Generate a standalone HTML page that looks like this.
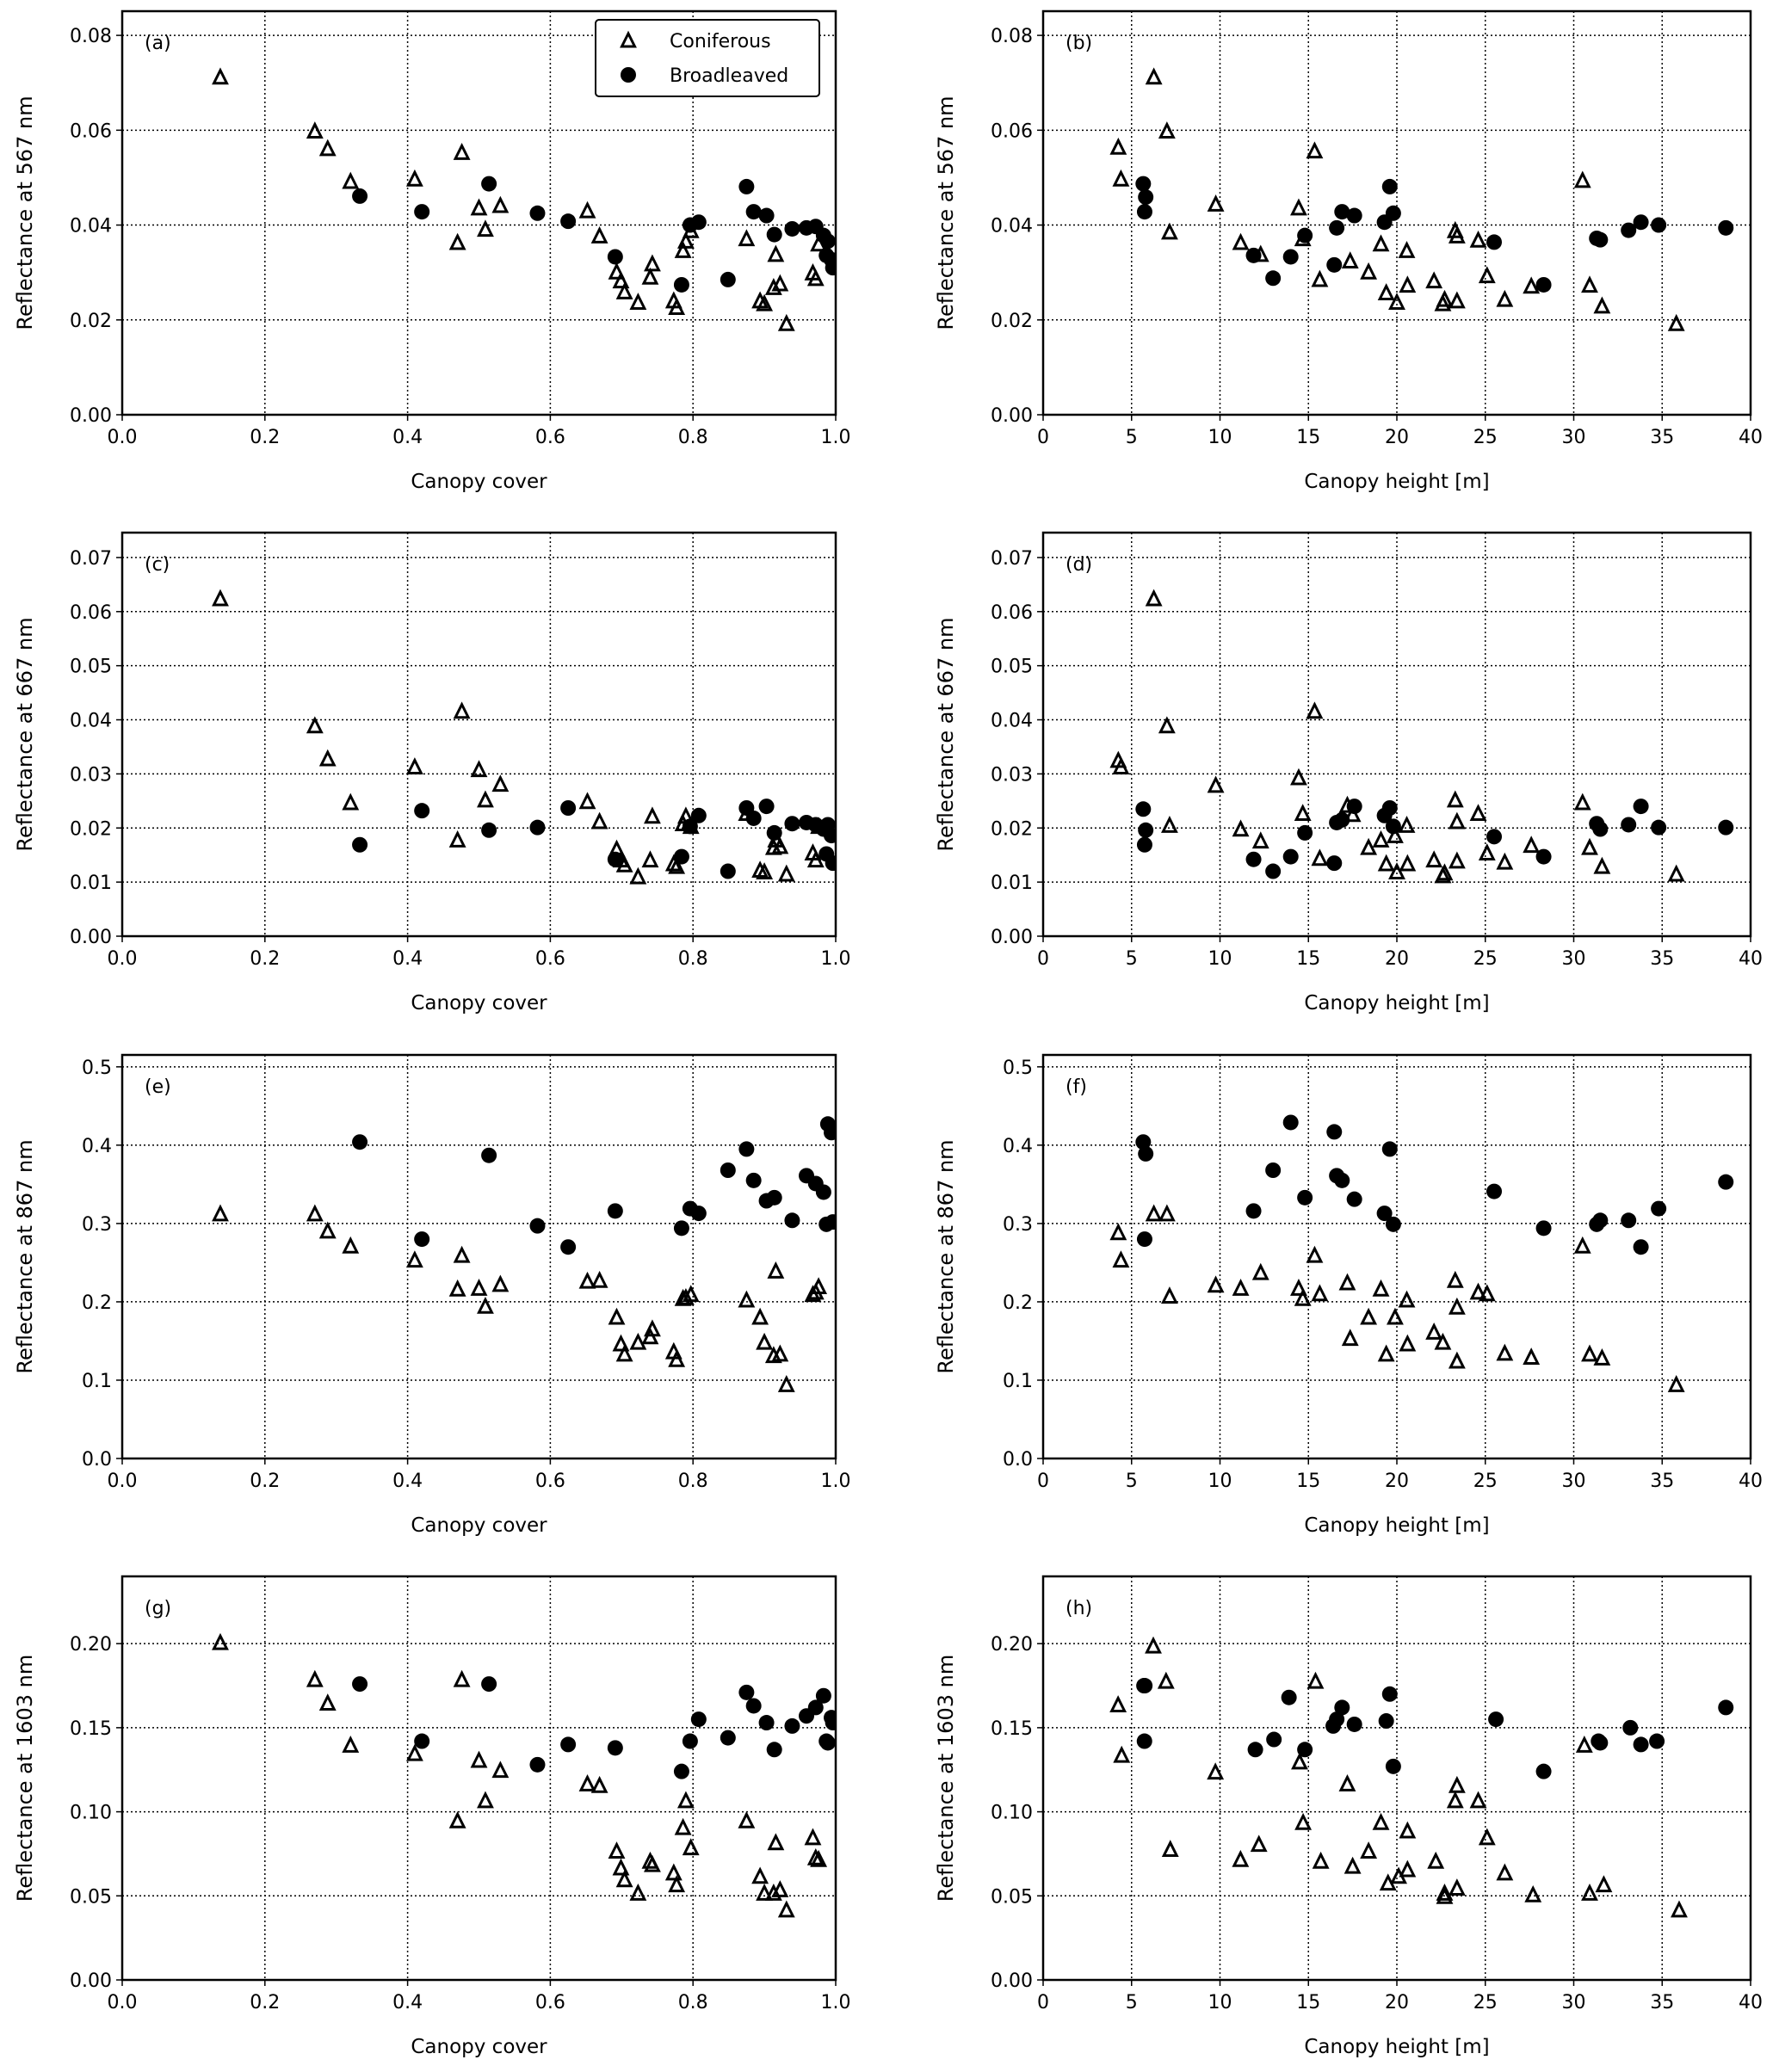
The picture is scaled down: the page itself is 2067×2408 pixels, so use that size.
<!DOCTYPE html>
<html><head><meta charset="utf-8"><style>
html,body{margin:0;padding:0;background:#fff;}
svg text{font-family:"DejaVu Sans","Liberation Sans",sans-serif;fill:#000;}
</style></head><body>
<svg id="fig" width="2067" height="2403" viewBox="0 0 2067 2403" xmlns="http://www.w3.org/2000/svg"></svg>
<script>
// ---- data (x arrays, y arrays per panel) ----
const coverConX=[0.1375,0.27,0.288,0.32,0.41,0.476,0.47,0.5,0.509,0.53,0.652,0.669,0.693,0.699,0.704,0.723,0.74,0.743,0.773,0.777,0.786,0.79,0.797,0.875,0.894,0.9,0.913,0.916,0.922,0.931,0.968,0.972,0.976];
const coverBroX=[0.333,0.42,0.514,0.582,0.625,0.691,0.784,0.796,0.808,0.849,0.875,0.885,0.903,0.914,0.939,0.959,0.972,0.983,0.989,0.987,0.994,0.996];
const aConY=[0.0710,0.0596,0.0559,0.0490,0.0495,0.0551,0.0361,0.0434,0.0389,0.0439,0.0428,0.0375,0.0299,0.0280,0.0257,0.0235,0.0288,0.0316,0.0238,0.0224,0.0344,0.0364,0.0386,0.0369,0.0238,0.0232,0.0266,0.0336,0.0274,0.0190,0.0297,0.0285,0.0358];
const aBroY=[0.0461,0.0428,0.0487,0.0425,0.0408,0.0333,0.0274,0.0400,0.0406,0.0285,0.0481,0.0428,0.0420,0.0380,0.0392,0.0394,0.0397,0.0378,0.0366,0.0336,0.0327,0.0310];
const cConY=[0.0622,0.0387,0.0326,0.0245,0.0311,0.0414,0.0176,0.0306,0.0250,0.0279,0.0247,0.0210,0.0159,0.0139,0.0130,0.0108,0.0139,0.0220,0.0132,0.0127,0.0206,0.0220,0.0201,0.0225,0.0120,0.0117,0.0162,0.0176,0.0164,0.0113,0.0152,0.0139,0.0201];
const cBroY=[0.0169,0.0232,0.0196,0.0201,0.0237,0.0142,0.0147,0.0203,0.0223,0.0120,0.0237,0.0218,0.0240,0.0191,0.0208,0.0210,0.0206,0.0198,0.0206,0.0152,0.0186,0.0135];
const eConY=[0.311,0.311,0.289,0.270,0.252,0.258,0.215,0.216,0.193,0.221,0.225,0.226,0.179,0.145,0.132,0.147,0.154,0.164,0.135,0.125,0.203,0.204,0.208,0.201,0.179,0.147,0.130,0.238,0.132,0.093,0.208,0.211,0.218];
const eBroY=[0.404,0.280,0.387,0.297,0.270,0.316,0.294,0.319,0.313,0.368,0.395,0.355,0.329,0.333,0.304,0.361,0.351,0.340,0.427,0.299,0.416,0.302];
const gConY=[0.200,0.178,0.164,0.139,0.134,0.178,0.094,0.130,0.106,0.124,0.116,0.115,0.076,0.066,0.059,0.051,0.070,0.068,0.063,0.056,0.090,0.106,0.078,0.094,0.061,0.051,0.051,0.081,0.053,0.041,0.084,0.072,0.071];
const gBroY=[0.176,0.142,0.176,0.128,0.140,0.138,0.124,0.142,0.155,0.144,0.171,0.163,0.153,0.137,0.151,0.157,0.162,0.169,0.141,0.142,0.156,0.153];

const bConX=[4.25,4.4,6.26,7.0,7.15,9.76,11.17,12.3,14.45,14.68,15.35,15.64,17.36,18.4,19.1,19.4,20.0,20.56,20.6,22.1,22.6,22.7,23.3,23.4,23.4,24.6,25.1,26.1,27.6,30.5,30.9,31.6,35.8];
const bConY=[0.0562,0.0495,0.0710,0.0596,0.0383,0.0442,0.0361,0.0336,0.0434,0.0369,0.0554,0.0283,0.0322,0.0299,0.0358,0.0255,0.0235,0.0344,0.0271,0.0280,0.0232,0.0241,0.0386,0.0238,0.0375,0.0366,0.0291,0.0241,0.0269,0.0492,0.0271,0.0227,0.0190];
const heightBroX=[5.66,5.8,5.74,11.9,13.0,14.0,14.8,16.46,16.6,16.9,17.6,19.3,19.6,19.8,25.5,28.3,31.3,31.5,33.1,33.8,34.8,38.6];
const bBroY=[0.0487,0.0459,0.0428,0.0336,0.0288,0.0333,0.0378,0.0316,0.0394,0.0428,0.0420,0.0406,0.0481,0.0425,0.0364,0.0274,0.0372,0.0369,0.0389,0.0406,0.0400,0.0394];
const dConX=[4.25,4.4,6.26,7.0,7.15,9.76,11.17,12.3,14.45,14.68,15.35,15.64,17.2,17.5,18.4,19.1,19.4,20.0,19.9,20.56,20.6,22.1,22.6,22.7,23.3,23.4,23.4,24.6,25.1,26.1,27.6,30.5,30.9,31.6,35.8];
const dConY=[0.0323,0.0311,0.0622,0.0387,0.0203,0.0277,0.0196,0.0174,0.0291,0.0225,0.0414,0.0142,0.0240,0.0223,0.0162,0.0176,0.0132,0.0117,0.0184,0.0203,0.0132,0.0139,0.0110,0.0115,0.0250,0.0210,0.0137,0.0225,0.0152,0.0135,0.0166,0.0245,0.0162,0.0127,0.0113];
const dBroY=[0.0235,0.0196,0.0169,0.0142,0.0120,0.0147,0.0191,0.0135,0.0210,0.0215,0.0240,0.0223,0.0237,0.0203,0.0184,0.0147,0.0208,0.0198,0.0206,0.0240,0.0201,0.0201];
const fConX=[4.25,4.4,6.26,7.0,7.15,9.76,11.17,12.3,14.45,14.68,15.35,15.64,17.2,17.36,18.4,19.1,19.4,19.9,20.56,20.6,22.1,22.6,23.3,23.4,23.4,24.6,25.1,26.1,27.6,30.5,30.9,31.6,35.8];
const fConY=[0.287,0.252,0.311,0.311,0.206,0.220,0.216,0.236,0.216,0.203,0.258,0.209,0.223,0.152,0.179,0.215,0.132,0.179,0.201,0.145,0.160,0.147,0.226,0.192,0.123,0.211,0.209,0.133,0.128,0.270,0.132,0.127,0.093];
const fBroY=[0.404,0.389,0.280,0.316,0.368,0.429,0.333,0.417,0.361,0.355,0.331,0.313,0.395,0.299,0.341,0.294,0.299,0.304,0.304,0.270,0.319,0.353];
const hConX=[4.24,4.44,6.23,6.95,7.19,9.74,11.16,12.2,14.5,14.7,15.4,15.7,17.2,17.5,18.4,19.1,19.5,20.1,20.6,20.6,22.2,22.7,22.7,23.4,23.3,23.4,24.6,25.1,26.1,27.7,30.6,30.9,31.7,35.96];
const hConY=[0.163,0.133,0.198,0.177,0.077,0.123,0.071,0.080,0.129,0.093,0.177,0.070,0.116,0.067,0.076,0.093,0.057,0.061,0.088,0.065,0.070,0.049,0.051,0.115,0.106,0.054,0.106,0.084,0.063,0.050,0.139,0.051,0.056,0.041];
const hBroX=[5.7,5.75,5.73,12.0,13.05,13.9,14.8,16.4,16.6,16.9,17.6,19.4,19.6,19.8,25.6,28.3,31.4,31.5,33.2,33.8,34.7,38.6];
const hBroY=[0.175,0.175,0.142,0.137,0.143,0.168,0.137,0.151,0.155,0.162,0.152,0.154,0.170,0.127,0.155,0.124,0.142,0.141,0.150,0.140,0.142,0.162];

const coverTicks=["0.0","0.2","0.4","0.6","0.8","1.0"];
const heightTicks=["0","5","10","15","20","25","30","35","40"];
const y567Ticks=["0.00","0.02","0.04","0.06","0.08"];
const y667Ticks=["0.00","0.01","0.02","0.03","0.04","0.05","0.06","0.07"];
const y867Ticks=["0.0","0.1","0.2","0.3","0.4","0.5"];
const y1603Ticks=["0.00","0.05","0.10","0.15","0.20"];

const NS="http://www.w3.org/2000/svg";
const svg=document.getElementById('fig');
function mk(tag,attrs,parent){const e=document.createElementNS(NS,tag);for(const k in attrs)e.setAttribute(k,attrs[k]);(parent||svg).appendChild(e);return e;}

const colL=[142,971],colR=[1212,2034];
const rowT=[13,619,1226,1832],H=469;

function panel(id,col,row,xmax,ymax,xTicks,yTicks,xlabel,ylabel,conX,conY,broX,broY,legend){
  const x0=col[0],x1=col[1],yT=rowT[row],yB=yT+H;
  const g=mk('g',{});
  
  
  const sx=v=>x0+(v/xmax)*(x1-x0);
  const sy=v=>yB-(v/ymax)*H;
  xTicks.forEach(t=>{const v=parseFloat(t),X=sx(v);
    if(v>0&&v<xmax){const l=mk('line',{x1:X,x2:X,y1:yT,y2:yB,stroke:'#000','stroke-width':1.5,'stroke-dasharray':'2,3'},g);}
    mk('line',{x1:X,x2:X,y1:yB,y2:yB+7,stroke:'#000','stroke-width':1.5},g);
    const tx=mk('text',{x:X,y:yB+33,'font-size':22,'text-anchor':'middle'},g);tx.textContent=t;
    
  });
  yTicks.forEach(t=>{const v=parseFloat(t),Y=sy(v);
    if(v>0){const l=mk('line',{x1:x0,x2:x1,y1:Y,y2:Y,stroke:'#000','stroke-width':1.5,'stroke-dasharray':'2,3'},g);}
    mk('line',{x1:x0-7,x2:x0,y1:Y,y2:Y,stroke:'#000','stroke-width':1.5},g);
    const tx=mk('text',{x:x0-12,y:Y+8,'font-size':22,'text-anchor':'end'},g);tx.textContent=t;
    
  });
  const fr=mk('rect',{x:x0,y:yT,width:x1-x0,height:H,fill:'none',stroke:'#000','stroke-width':2.5},g);
  
  const lab=mk('text',{x:x0+26,y:yT+44,'font-size':22},g);lab.textContent='('+id+')';
  
  const xl=mk('text',{x:(x0+x1)/2,y:yB+85,'font-size':23,'text-anchor':'middle'},g);xl.textContent=xlabel;
  
  const yx=x0-105,yy=yT+H/2;
  const yl=mk('text',{x:yx,y:yy,'font-size':24,'text-anchor':'middle',transform:'rotate(-90 '+yx+' '+yy+')'},g);yl.textContent=ylabel;
  
  const clip='clip'+id;
  const cp=mk('clipPath',{id:clip},g);mk('rect',{x:x0,y:yT,width:x1-x0,height:H},cp);
  const pts=mk('g',{'clip-path':'url(#'+clip+')'},g);
  conX.forEach((xv,i)=>{const X=sx(xv),Y=sy(conY[i]);
    const p=mk('polygon',{points:`${X},${Y-9} ${X-7.5},${Y+6} ${X+7.5},${Y+6}`,fill:'none',stroke:'#000','stroke-width':3,'stroke-linejoin':'miter'},pts);
    
  });
  broX.forEach((xv,i)=>{
    const c=mk('circle',{cx:sx(xv),cy:sy(broY[i]),r:9,fill:'#000'},pts);
    
  });
  if(legend){
    const lg=mk('g',{},g);
    mk('rect',{x:692,y:23,width:260,height:89,rx:4,fill:'#fff',stroke:'#000','stroke-width':2},lg);
    const X=730,Y=48;
    const p=mk('polygon',{points:`${X},${Y-9} ${X-7.5},${Y+6} ${X+7.5},${Y+6}`,fill:'none',stroke:'#000','stroke-width':3},lg);
    
    const t1=mk('text',{x:778,y:55,'font-size':22},lg);t1.textContent='Coniferous';
    
    const c=mk('circle',{cx:730,cy:87,r:9,fill:'#000'},lg);
    
    const t2=mk('text',{x:778,y:95,'font-size':22},lg);t2.textContent='Broadleaved';
    
  }
}
panel('a',colL,0,1,0.0851,coverTicks,y567Ticks,'Canopy cover','Reflectance at 567 nm',coverConX,aConY,coverBroX,aBroY,true);
panel('b',colR,0,40,0.0851,heightTicks,y567Ticks,'Canopy height [m]','Reflectance at 567 nm',bConX,bConY,heightBroX,bBroY,false);
panel('c',colL,1,1,0.0746,coverTicks,y667Ticks,'Canopy cover','Reflectance at 667 nm',coverConX,cConY,coverBroX,cBroY,false);
panel('d',colR,1,40,0.0746,heightTicks,y667Ticks,'Canopy height [m]','Reflectance at 667 nm',dConX,dConY,heightBroX,dBroY,false);
panel('e',colL,2,1,0.5152,coverTicks,y867Ticks,'Canopy cover','Reflectance at 867 nm',coverConX,eConY,coverBroX,eBroY,false);
panel('f',colR,2,40,0.5152,heightTicks,y867Ticks,'Canopy height [m]','Reflectance at 867 nm',fConX,fConY,heightBroX,fBroY,false);
panel('g',colL,3,1,0.240,coverTicks,y1603Ticks,'Canopy cover','Reflectance at 1603 nm',coverConX,gConY,coverBroX,gBroY,false);
panel('h',colR,3,40,0.240,heightTicks,y1603Ticks,'Canopy height [m]','Reflectance at 1603 nm',hConX,hConY,hBroX,hBroY,false);
</script>
</body></html>
